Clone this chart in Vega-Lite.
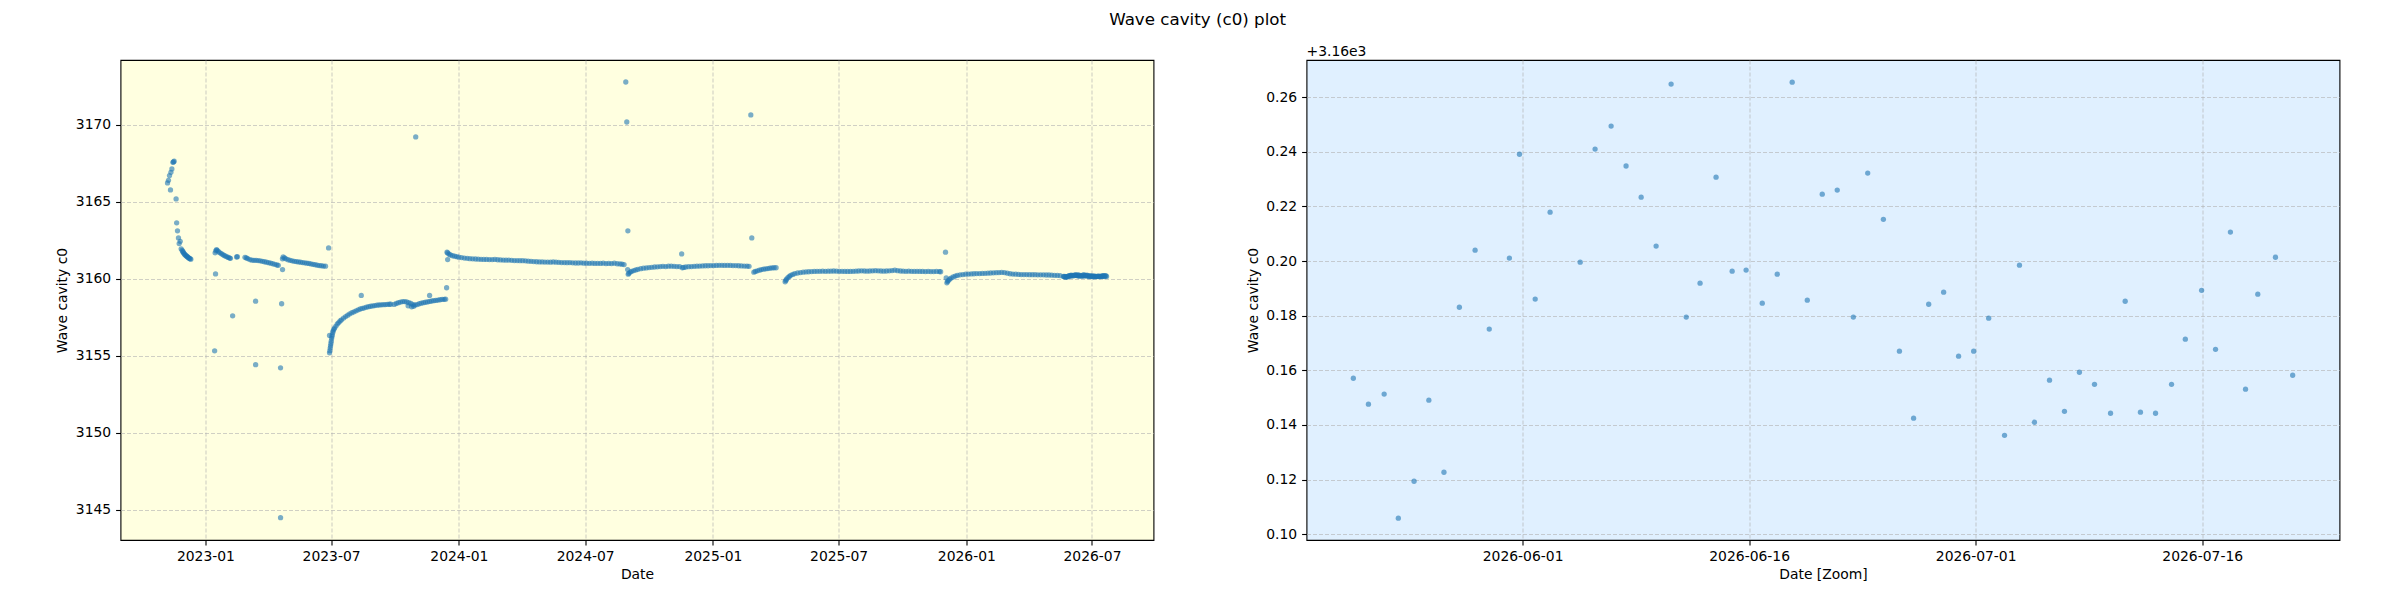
{
"$schema": "https://vega.github.io/schema/vega-lite/v6.json",
"padding": {"left": 54.5, "top": 12, "right": 5, "bottom": 5},
"title": {"text": "Wave cavity (c0) plot", "fontSize": 16.7, "fontWeight": "normal", "font": "DejaVu Sans", "anchor": "middle", "offset": 15, "color": "black"},
"config": {
  "font": "DejaVu Sans",
  "view": {"stroke": "black", "strokeWidth": 1.1},
  "axis": {"domain": false, "tickColor": "black", "tickSize": 4.9, "tickWidth": 1.1, "labelFontSize": 13.9, "labelColor": "black", "labelPadding": 4.9, "titleFontSize": 13.9, "titleFontWeight": "normal", "titleColor": "black", "gridColor": "#b0b0b0", "gridOpacity": 0.6, "gridDash": [4, 2], "gridWidth": 1.1, "labelFont": "DejaVu Sans", "titleFont": "DejaVu Sans"},
  "axisY": {"titlePadding": 5.6},
  "axisX": {"titlePadding": 4}
},
"spacing": 91,
"datasets": {"all": [
{"t":"2022-11-07T10:00Z","v":3166.23},{"t":"2022-11-08T19:00Z","v":3166.40},{"t":"2022-11-10T07:00Z","v":3166.71},{"t":"2022-11-11T17:00Z","v":3165.78},{"t":"2022-11-12T07:00Z","v":3166.92},{"t":"2022-11-13T17:00Z","v":3167.14},{"t":"2022-11-15T05:00Z","v":3167.57},{"t":"2022-11-16T00:00Z","v":3167.60},{"t":"2022-11-17T00:00Z","v":3167.64},{"t":"2022-11-19T19:00Z","v":3165.19},{"t":"2022-11-20T14:00Z","v":3163.64},{"t":"2022-11-21T19:00Z","v":3163.12},{"t":"2022-11-23T05:00Z","v":3162.66},{"t":"2022-11-24T05:00Z","v":3162.29},{"t":"2022-11-25T17:00Z","v":3162.44},{"t":"2022-11-27T02:00Z","v":3161.95},{"t":"2022-11-28T12:00Z","v":3161.85},{"t":"2022-11-29T12:00Z","v":3161.78},{"t":"2022-11-30","v":3161.72},{"t":"2022-12-01","v":3161.66},{"t":"2022-12-02","v":3161.60},{"t":"2022-12-03","v":3161.55},{"t":"2022-12-04","v":3161.51},{"t":"2022-12-05","v":3161.47},{"t":"2022-12-06","v":3161.44},{"t":"2022-12-07","v":3161.40},{"t":"2022-12-08","v":3161.36},{"t":"2022-12-09","v":3161.33},{"t":"2022-12-10","v":3161.30},{"t":"2022-12-11","v":3161.28},
{"t":"2023-01-14T07:00Z","v":3155.32},{"t":"2023-01-15T14:00Z","v":3160.32},{"t":"2023-02-09T05:00Z","v":3157.60},{"t":"2023-03-14T07:00Z","v":3158.55},{"t":"2023-03-14T08:00Z","v":3154.42},{"t":"2023-04-19T05:00Z","v":3154.22},{"t":"2023-04-19T06:00Z","v":3144.48},{"t":"2023-04-20T19:00Z","v":3158.38},{"t":"2023-04-22T02:00Z","v":3160.60},{"t":"2023-06-27T10:00Z","v":3162.01},
{"t":"2023-01-15","v":3161.69},{"t":"2023-01-16","v":3161.82},{"t":"2023-01-17","v":3161.90},{"t":"2023-01-18","v":3161.85},{"t":"2023-01-20","v":3161.76},{"t":"2023-01-22","v":3161.69},{"t":"2023-01-24","v":3161.63},{"t":"2023-01-26","v":3161.58},{"t":"2023-01-28","v":3161.52},{"t":"2023-01-30","v":3161.47},{"t":"2023-02-01","v":3161.43},{"t":"2023-02-03","v":3161.39},{"t":"2023-02-05","v":3161.35},{"t":"2023-02-06","v":3161.33},
{"t":"2023-02-15","v":3161.42},{"t":"2023-02-16","v":3161.44},
{"t":"2023-02-27","v":3161.40},{"t":"2023-03-01","v":3161.36},{"t":"2023-03-03","v":3161.32},{"t":"2023-03-06","v":3161.25},{"t":"2023-03-09","v":3161.21},{"t":"2023-03-12","v":3161.20},{"t":"2023-03-15","v":3161.20},{"t":"2023-03-18","v":3161.19},{"t":"2023-03-21","v":3161.17},{"t":"2023-03-24","v":3161.14},{"t":"2023-03-27","v":3161.11},{"t":"2023-03-30","v":3161.08},{"t":"2023-04-02","v":3161.05},{"t":"2023-04-05","v":3161.02},{"t":"2023-04-08","v":3160.98},{"t":"2023-04-11","v":3160.94},{"t":"2023-04-14","v":3160.90},{"t":"2023-04-16","v":3160.88},
{"t":"2023-04-22","v":3161.30},{"t":"2023-04-23","v":3161.42},{"t":"2023-04-25","v":3161.36},{"t":"2023-04-27","v":3161.30},{"t":"2023-04-30","v":3161.24},{"t":"2023-05-03","v":3161.20},{"t":"2023-05-06","v":3161.17},{"t":"2023-05-09","v":3161.14},{"t":"2023-05-12","v":3161.12},{"t":"2023-05-15","v":3161.10},{"t":"2023-05-18","v":3161.08},{"t":"2023-05-21","v":3161.06},{"t":"2023-05-24","v":3161.04},{"t":"2023-05-27","v":3161.02},{"t":"2023-05-30","v":3161.00},{"t":"2023-06-02","v":3160.97},{"t":"2023-06-05","v":3160.94},{"t":"2023-06-08","v":3160.92},{"t":"2023-06-11","v":3160.89},{"t":"2023-06-14","v":3160.86},{"t":"2023-06-17","v":3160.85},{"t":"2023-06-20","v":3160.83},{"t":"2023-06-23","v":3160.82},
{"t":"2023-06-28T19:00Z","v":3156.32},{"t":"2023-06-28T19:00Z","v":3155.19},{"t":"2023-06-29T06:00Z","v":3155.33},{"t":"2023-06-29T18:00Z","v":3155.50},{"t":"2023-06-30T06:00Z","v":3155.65},{"t":"2023-06-30T18:00Z","v":3155.80},{"t":"2023-07-01T06:00Z","v":3155.95},{"t":"2023-07-01T18:00Z","v":3156.12},{"t":"2023-07-02T06:00Z","v":3156.25},{"t":"2023-07-02T18:00Z","v":3156.36},{"t":"2023-07-03T12:00Z","v":3156.52},{"t":"2023-07-04","v":3156.62},{"t":"2023-07-05","v":3156.72},{"t":"2023-07-06","v":3156.80},{"t":"2023-07-08","v":3156.93},{"t":"2023-07-10","v":3157.07},{"t":"2023-07-12","v":3157.16},{"t":"2023-07-14","v":3157.26},{"t":"2023-07-16","v":3157.34},{"t":"2023-07-19","v":3157.45},{"t":"2023-07-22","v":3157.55},{"t":"2023-07-25","v":3157.64},{"t":"2023-07-28","v":3157.73},{"t":"2023-07-31","v":3157.80},{"t":"2023-08-03","v":3157.86},{"t":"2023-08-06","v":3157.92},{"t":"2023-08-09","v":3157.99},{"t":"2023-08-12","v":3158.04},{"t":"2023-08-15","v":3158.08},{"t":"2023-08-18","v":3158.12},{"t":"2023-08-21","v":3158.16},{"t":"2023-08-24","v":3158.19},{"t":"2023-08-27","v":3158.22},{"t":"2023-08-30","v":3158.24},{"t":"2023-09-02","v":3158.26},{"t":"2023-09-05","v":3158.29},{"t":"2023-09-08","v":3158.30},{"t":"2023-09-11","v":3158.31},{"t":"2023-09-14","v":3158.32},{"t":"2023-09-17","v":3158.33},{"t":"2023-09-20","v":3158.34},{"t":"2023-09-23","v":3158.35},{"t":"2023-09-25","v":3158.35},
{"t":"2023-09-30","v":3158.34},{"t":"2023-10-03","v":3158.40},{"t":"2023-10-06","v":3158.45},{"t":"2023-10-09","v":3158.49},{"t":"2023-10-12","v":3158.52},{"t":"2023-10-15","v":3158.52},{"t":"2023-10-18","v":3158.50},{"t":"2023-10-20","v":3158.25},{"t":"2023-10-21","v":3158.45},{"t":"2023-10-24","v":3158.40},{"t":"2023-10-25","v":3158.18},{"t":"2023-10-27","v":3158.32},{"t":"2023-10-28","v":3158.22},{"t":"2023-10-30","v":3158.30},{"t":"2023-11-02","v":3158.33},{"t":"2023-11-05","v":3158.38},{"t":"2023-11-08","v":3158.42},{"t":"2023-11-11","v":3158.45},{"t":"2023-11-14","v":3158.48},{"t":"2023-11-17","v":3158.50},{"t":"2023-11-20","v":3158.53},{"t":"2023-11-23","v":3158.56},{"t":"2023-11-26","v":3158.58},{"t":"2023-11-29","v":3158.60},{"t":"2023-12-02","v":3158.62},{"t":"2023-12-05","v":3158.64},{"t":"2023-12-08","v":3158.66},{"t":"2023-12-11","v":3158.67},{"t":"2023-12-13","v":3158.68},
{"t":"2023-08-13T12:00Z","v":3158.92},{"t":"2023-10-30T22:00Z","v":3169.22},{"t":"2023-11-19T22:00Z","v":3158.92},{"t":"2023-12-14T10:00Z","v":3159.42},{"t":"2023-12-15T22:00Z","v":3161.25},
{"t":"2023-12-15","v":3161.73},{"t":"2023-12-16","v":3161.68},{"t":"2023-12-18","v":3161.60},{"t":"2023-12-20","v":3161.55},{"t":"2023-12-23","v":3161.50},{"t":"2023-12-26","v":3161.47},{"t":"2023-12-29","v":3161.44},{"t":"2024-01-01","v":3161.41},{"t":"2024-01-05","v":3161.38},{"t":"2024-01-09","v":3161.35},{"t":"2024-01-13","v":3161.33},{"t":"2024-01-17","v":3161.31},{"t":"2024-01-21","v":3161.30},{"t":"2024-01-25","v":3161.29},{"t":"2024-01-29","v":3161.28},{"t":"2024-02-02","v":3161.27},{"t":"2024-02-06","v":3161.26},{"t":"2024-02-10","v":3161.26},{"t":"2024-02-14","v":3161.25},{"t":"2024-02-18","v":3161.25},{"t":"2024-02-22","v":3161.26},{"t":"2024-02-26","v":3161.24},{"t":"2024-03-01","v":3161.23},{"t":"2024-03-05","v":3161.22},{"t":"2024-03-09","v":3161.21},{"t":"2024-03-13","v":3161.22},{"t":"2024-03-17","v":3161.20},{"t":"2024-03-21","v":3161.19},{"t":"2024-03-25","v":3161.19},{"t":"2024-03-29","v":3161.18},{"t":"2024-04-02","v":3161.18},{"t":"2024-04-06","v":3161.17},{"t":"2024-04-10","v":3161.15},{"t":"2024-04-14","v":3161.14},{"t":"2024-04-18","v":3161.12},{"t":"2024-04-22","v":3161.11},{"t":"2024-04-26","v":3161.10},{"t":"2024-04-30","v":3161.10},{"t":"2024-05-04","v":3161.09},{"t":"2024-05-08","v":3161.09},{"t":"2024-05-12","v":3161.08},{"t":"2024-05-16","v":3161.10},{"t":"2024-05-20","v":3161.08},{"t":"2024-05-24","v":3161.07},{"t":"2024-05-28","v":3161.06},{"t":"2024-06-01","v":3161.06},{"t":"2024-06-05","v":3161.05},{"t":"2024-06-09","v":3161.06},{"t":"2024-06-13","v":3161.04},{"t":"2024-06-17","v":3161.03},{"t":"2024-06-21","v":3161.03},{"t":"2024-06-25","v":3161.04},{"t":"2024-06-29","v":3161.02},{"t":"2024-07-03","v":3161.02},{"t":"2024-07-07","v":3161.01},{"t":"2024-07-11","v":3161.02},{"t":"2024-07-15","v":3161.00},{"t":"2024-07-19","v":3161.01},{"t":"2024-07-23","v":3161.00},{"t":"2024-07-27","v":3161.02},{"t":"2024-07-31","v":3160.99},{"t":"2024-08-04","v":3161.00},{"t":"2024-08-08","v":3160.99},{"t":"2024-08-12","v":3161.02},{"t":"2024-08-16","v":3160.98},{"t":"2024-08-20","v":3160.97},{"t":"2024-08-23","v":3160.95},{"t":"2024-08-26","v":3160.93},
{"t":"2024-08-28T12:00Z","v":3172.79},{"t":"2024-08-29T22:00Z","v":3170.19},{"t":"2024-08-31T05:00Z","v":3160.60},{"t":"2024-08-31T12:00Z","v":3163.12},{"t":"2024-11-17T00:00Z","v":3161.62},{"t":"2025-02-24T14:00Z","v":3170.65},{"t":"2025-02-26T00:00Z","v":3162.66},{"t":"2025-12-02T00:00Z","v":3161.73},{"t":"2025-12-03T00:00Z","v":3160.06},
{"t":"2024-09-01","v":3160.30},{"t":"2024-09-02","v":3160.36},{"t":"2024-09-04","v":3160.44},{"t":"2024-09-06","v":3160.49},{"t":"2024-09-09","v":3160.54},{"t":"2024-09-12","v":3160.58},{"t":"2024-09-15","v":3160.62},{"t":"2024-09-19","v":3160.66},{"t":"2024-09-23","v":3160.69},{"t":"2024-09-27","v":3160.71},{"t":"2024-10-01","v":3160.73},{"t":"2024-10-05","v":3160.75},{"t":"2024-10-09","v":3160.77},{"t":"2024-10-13","v":3160.78},{"t":"2024-10-17","v":3160.80},{"t":"2024-10-21","v":3160.81},{"t":"2024-10-25","v":3160.80},{"t":"2024-10-29","v":3160.82},{"t":"2024-11-02","v":3160.82},{"t":"2024-11-06","v":3160.81},{"t":"2024-11-10","v":3160.80},{"t":"2024-11-14","v":3160.80},{"t":"2024-11-18","v":3160.72},{"t":"2024-11-20","v":3160.74},{"t":"2024-11-23","v":3160.77},{"t":"2024-11-27","v":3160.79},{"t":"2024-12-01","v":3160.80},{"t":"2024-12-05","v":3160.81},{"t":"2024-12-09","v":3160.82},{"t":"2024-12-13","v":3160.83},{"t":"2024-12-17","v":3160.84},{"t":"2024-12-21","v":3160.85},{"t":"2024-12-25","v":3160.85},{"t":"2024-12-29","v":3160.86},{"t":"2025-01-02","v":3160.86},{"t":"2025-01-06","v":3160.87},{"t":"2025-01-10","v":3160.88},{"t":"2025-01-14","v":3160.88},{"t":"2025-01-18","v":3160.87},{"t":"2025-01-22","v":3160.88},{"t":"2025-01-26","v":3160.87},{"t":"2025-01-30","v":3160.86},{"t":"2025-02-03","v":3160.86},{"t":"2025-02-07","v":3160.85},{"t":"2025-02-11","v":3160.84},{"t":"2025-02-15","v":3160.83},{"t":"2025-02-19","v":3160.82},{"t":"2025-02-22","v":3160.81},
{"t":"2025-03-01","v":3160.43},{"t":"2025-03-03","v":3160.48},{"t":"2025-03-06","v":3160.52},{"t":"2025-03-09","v":3160.56},{"t":"2025-03-12","v":3160.60},{"t":"2025-03-15","v":3160.63},{"t":"2025-03-18","v":3160.65},{"t":"2025-03-21","v":3160.67},{"t":"2025-03-24","v":3160.69},{"t":"2025-03-27","v":3160.71},{"t":"2025-03-30","v":3160.72},{"t":"2025-04-02","v":3160.72},
{"t":"2025-04-15","v":3159.81},{"t":"2025-04-16","v":3159.90},{"t":"2025-04-17","v":3159.98},{"t":"2025-04-19","v":3160.08},{"t":"2025-04-21","v":3160.16},{"t":"2025-04-23","v":3160.23},{"t":"2025-04-26","v":3160.29},{"t":"2025-04-29","v":3160.34},{"t":"2025-05-03","v":3160.38},{"t":"2025-05-07","v":3160.41},{"t":"2025-05-11","v":3160.43},{"t":"2025-05-15","v":3160.45},{"t":"2025-05-19","v":3160.46},{"t":"2025-05-23","v":3160.47},{"t":"2025-05-27","v":3160.48},{"t":"2025-05-31","v":3160.49},{"t":"2025-06-04","v":3160.49},{"t":"2025-06-08","v":3160.50},{"t":"2025-06-12","v":3160.49},{"t":"2025-06-16","v":3160.50},{"t":"2025-06-20","v":3160.50},{"t":"2025-06-24","v":3160.51},{"t":"2025-06-28","v":3160.50},{"t":"2025-07-02","v":3160.49},{"t":"2025-07-06","v":3160.49},{"t":"2025-07-10","v":3160.48},{"t":"2025-07-14","v":3160.48},{"t":"2025-07-18","v":3160.48},{"t":"2025-07-22","v":3160.49},{"t":"2025-07-26","v":3160.50},{"t":"2025-07-30","v":3160.51},{"t":"2025-08-03","v":3160.52},{"t":"2025-08-07","v":3160.51},{"t":"2025-08-11","v":3160.50},{"t":"2025-08-15","v":3160.51},{"t":"2025-08-19","v":3160.52},{"t":"2025-08-23","v":3160.53},{"t":"2025-08-27","v":3160.52},{"t":"2025-08-31","v":3160.51},{"t":"2025-09-04","v":3160.50},{"t":"2025-09-08","v":3160.51},{"t":"2025-09-12","v":3160.52},{"t":"2025-09-16","v":3160.54},{"t":"2025-09-20","v":3160.56},{"t":"2025-09-24","v":3160.53},{"t":"2025-09-28","v":3160.51},{"t":"2025-10-02","v":3160.50},{"t":"2025-10-06","v":3160.49},{"t":"2025-10-10","v":3160.50},{"t":"2025-10-14","v":3160.49},{"t":"2025-10-18","v":3160.48},{"t":"2025-10-22","v":3160.49},{"t":"2025-10-26","v":3160.48},{"t":"2025-10-30","v":3160.48},{"t":"2025-11-03","v":3160.47},{"t":"2025-11-07","v":3160.48},{"t":"2025-11-11","v":3160.47},{"t":"2025-11-15","v":3160.47},{"t":"2025-11-19","v":3160.48},{"t":"2025-11-23","v":3160.47},{"t":"2025-11-25","v":3160.46},
{"t":"2025-12-04","v":3159.74},{"t":"2025-12-05","v":3159.82},{"t":"2025-12-06","v":3159.90},{"t":"2025-12-08","v":3159.98},{"t":"2025-12-10","v":3160.05},{"t":"2025-12-13","v":3160.12},{"t":"2025-12-16","v":3160.18},{"t":"2025-12-19","v":3160.22},{"t":"2025-12-23","v":3160.26},{"t":"2025-12-27","v":3160.28},{"t":"2025-12-31","v":3160.30},{"t":"2026-01-04","v":3160.31},{"t":"2026-01-08","v":3160.32},{"t":"2026-01-12","v":3160.33},{"t":"2026-01-16","v":3160.34},{"t":"2026-01-20","v":3160.34},{"t":"2026-01-24","v":3160.35},{"t":"2026-01-28","v":3160.36},{"t":"2026-02-01","v":3160.37},{"t":"2026-02-05","v":3160.38},{"t":"2026-02-09","v":3160.39},{"t":"2026-02-13","v":3160.40},{"t":"2026-02-17","v":3160.41},{"t":"2026-02-21","v":3160.42},{"t":"2026-02-25","v":3160.41},{"t":"2026-03-01","v":3160.37},{"t":"2026-03-05","v":3160.33},{"t":"2026-03-09","v":3160.31},{"t":"2026-03-13","v":3160.30},{"t":"2026-03-17","v":3160.29},{"t":"2026-03-21","v":3160.28},{"t":"2026-03-25","v":3160.28},{"t":"2026-03-29","v":3160.28},{"t":"2026-04-02","v":3160.27},{"t":"2026-04-06","v":3160.27},{"t":"2026-04-10","v":3160.27},{"t":"2026-04-14","v":3160.26},{"t":"2026-04-18","v":3160.26},{"t":"2026-04-22","v":3160.26},{"t":"2026-04-26","v":3160.25},{"t":"2026-04-30","v":3160.25},{"t":"2026-05-04","v":3160.24},{"t":"2026-05-08","v":3160.23},{"t":"2026-05-12","v":3160.22},{"t":"2026-05-16","v":3160.21},
{"t":"2026-05-20T19:00Z","v":3160.1571},{"t":"2026-05-21T19:00Z","v":3160.1476},{"t":"2026-05-22T20:00Z","v":3160.1513},{"t":"2026-05-23T18:30Z","v":3160.1059},{"t":"2026-05-24T19:30Z","v":3160.1194},{"t":"2026-05-25T19:00Z","v":3160.1491},{"t":"2026-05-26T19:00Z","v":3160.1227},{"t":"2026-05-27T19:30Z","v":3160.1831},{"t":"2026-05-28T20:30Z","v":3160.2040},{"t":"2026-05-29T19:00Z","v":3160.1751},{"t":"2026-05-31T03:00Z","v":3160.2011},{"t":"2026-05-31T19:00Z","v":3160.2391},{"t":"2026-06-01T20:00Z","v":3160.1861},{"t":"2026-06-02T19:40Z","v":3160.2179},{"t":"2026-06-04T19:30Z","v":3160.1996},{"t":"2026-06-05T19:10Z","v":3160.2410},{"t":"2026-06-06T20:40Z","v":3160.2494},{"t":"2026-06-07T20:25Z","v":3160.2348},{"t":"2026-06-08T20:25Z","v":3160.2234},{"t":"2026-06-09T20:10Z","v":3160.2055},{"t":"2026-06-10T20:00Z","v":3160.2648},{"t":"2026-06-11T20:00Z","v":3160.1795},{"t":"2026-06-12T18:00Z","v":3160.1919},{"t":"2026-06-13T19:25Z","v":3160.2307},{"t":"2026-06-14T21:00Z","v":3160.1963},{"t":"2026-06-15T19:10Z","v":3160.1967},{"t":"2026-06-16T20:50Z","v":3160.1846},{"t":"2026-06-17T20:40Z","v":3160.1952},{"t":"2026-06-18T20:25Z","v":3160.2655},{"t":"2026-06-19T20:25Z","v":3160.1857},{"t":"2026-06-20T20:10Z","v":3160.2245},{"t":"2026-06-21T20:00Z","v":3160.2260},{"t":"2026-06-22T21:35Z","v":3160.1795},{"t":"2026-06-23T20:25Z","v":3160.2322},{"t":"2026-06-24T21:20Z","v":3160.2153},{"t":"2026-06-25T22:50Z","v":3160.1670},{"t":"2026-06-26T21:20Z","v":3160.1425},{"t":"2026-06-27T21:20Z","v":3160.1842},{"t":"2026-06-28T21:05Z","v":3160.1886},{"t":"2026-06-29T20:50Z","v":3160.1652},{"t":"2026-06-30T20:50Z","v":3160.1670},{"t":"2026-07-01T20:40Z","v":3160.1791},{"t":"2026-07-02T21:50Z","v":3160.1362},{"t":"2026-07-03T21:35Z","v":3160.1985},{"t":"2026-07-04T21:20Z","v":3160.1410},{"t":"2026-07-05T21:20Z","v":3160.1564},{"t":"2026-07-06T21:05Z","v":3160.1450},{"t":"2026-07-07T20:50Z","v":3160.1593},{"t":"2026-07-08T20:50Z","v":3160.1549},{"t":"2026-07-09T22:20Z","v":3160.1443},{"t":"2026-07-10T21:35Z","v":3160.1853},{"t":"2026-07-11T21:50Z","v":3160.1447},{"t":"2026-07-12T21:50Z","v":3160.1443},{"t":"2026-07-13T23:15Z","v":3160.1549},{"t":"2026-07-14T21:10Z","v":3160.1714},{"t":"2026-07-15T23:00Z","v":3160.1893},{"t":"2026-07-16T21:10Z","v":3160.1677},{"t":"2026-07-17T20:50Z","v":3160.2106},{"t":"2026-07-18T20:50Z","v":3160.1531},{"t":"2026-07-19T16:20Z","v":3160.1879},{"t":"2026-07-20T20:25Z","v":3160.2014},{"t":"2026-07-21T23:45Z","v":3160.1582}
]},
"hconcat": [
 {
  "width": 1033, "height": 480,
  "title": {"text": " ", "anchor": "start", "frame": "group", "fontSize": 13.9, "fontWeight": "normal", "offset": 1.5, "color": "black", "font": "DejaVu Sans"},
  "view": {"fill": "#ffffe0", "stroke": "black", "strokeWidth": 1.1},
  "data": {"name": "all"},
  "mark": {"type": "circle", "size": 28, "color": "#1f77b4", "opacity": 0.6},
  "encoding": {
   "x": {"field": "t", "type": "temporal",
     "scale": {"type": "utc", "nice": false, "domain": [{"year": 2022, "month": 8, "date": 31, "hours": 17, "utc": true}, {"year": 2026, "month": 9, "date": 27, "hours": 14, "utc": true}]},
     "axis": {"title": "Date", "labelExpr": "utcFormat(datum.value, '%Y-%m')", "values": [{"year": 2023, "month": 1, "date": 1, "utc": true}, {"year": 2023, "month": 7, "date": 1, "utc": true}, {"year": 2024, "month": 1, "date": 1, "utc": true}, {"year": 2024, "month": 7, "date": 1, "utc": true}, {"year": 2025, "month": 1, "date": 1, "utc": true}, {"year": 2025, "month": 7, "date": 1, "utc": true}, {"year": 2026, "month": 1, "date": 1, "utc": true}, {"year": 2026, "month": 7, "date": 1, "utc": true}]}},
   "y": {"field": "v", "type": "quantitative",
     "scale": {"domain": [3143.03, 3174.22], "nice": false, "zero": false},
     "axis": {"title": "Wave cavity c0", "labelExpr": "format(datum.value, 'd')", "values": [3145, 3150, 3155, 3160, 3165, 3170]}}
  }
 },
 {
  "width": 1033, "height": 480,
  "title": {"text": "+3.16e3", "anchor": "start", "frame": "group", "fontSize": 13.9, "fontWeight": "normal", "offset": 1.5, "color": "black", "font": "DejaVu Sans"},
  "view": {"fill": "#e0f0ff", "stroke": "black", "strokeWidth": 1.1},
  "data": {"name": "all"},
  "transform": [{"filter": {"field": "t", "gte": {"year": 2026, "month": 5, "date": 17, "utc": true}}}],
  "mark": {"type": "circle", "size": 28, "color": "#1f77b4", "opacity": 0.6},
  "encoding": {
   "x": {"field": "t", "type": "temporal",
     "scale": {"type": "utc", "nice": false, "domain": [{"year": 2026, "month": 5, "date": 17, "hours": 16, "minutes": 34, "utc": true}, {"year": 2026, "month": 7, "date": 25, "hours": 2, "minutes": 10, "utc": true}]},
     "axis": {"title": "Date [Zoom]", "labelExpr": "utcFormat(datum.value, '%Y-%m-%d')", "values": [{"year": 2026, "month": 6, "date": 1, "utc": true}, {"year": 2026, "month": 6, "date": 16, "utc": true}, {"year": 2026, "month": 7, "date": 1, "utc": true}, {"year": 2026, "month": 7, "date": 16, "utc": true}]}},
   "y": {"field": "v", "type": "quantitative",
     "scale": {"domain": [3160.0979, 3160.2736], "nice": false, "zero": false},
     "axis": {"title": "Wave cavity c0", "labelExpr": "format(datum.value - 3160, '.2f')", "values": [3160.10, 3160.12, 3160.14, 3160.16, 3160.18, 3160.20, 3160.22, 3160.24, 3160.26]}}
  }
 }
]
}
